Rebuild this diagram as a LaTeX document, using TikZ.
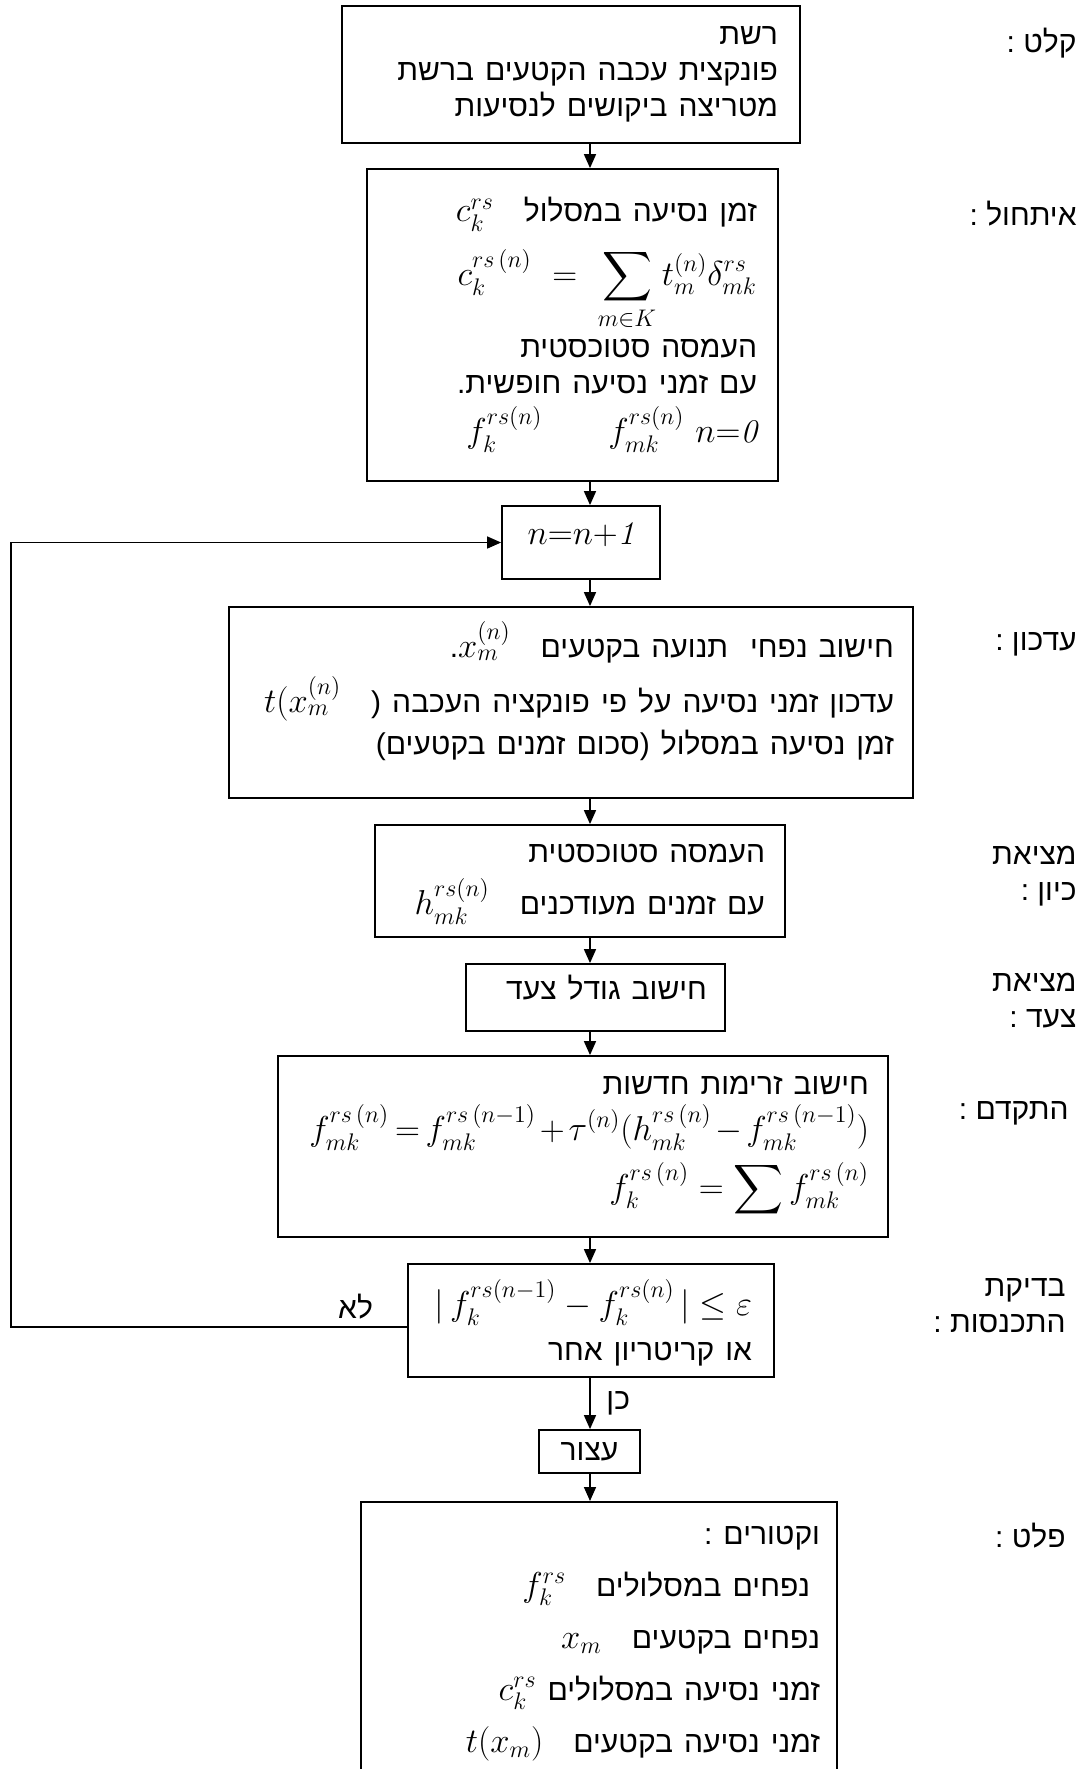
\documentclass[tikz,border=0pt]{standalone}
\usepackage{amsmath}
\usepackage{fontspec}
\usepackage{tikz}
\usetikzlibrary{arrows.meta,positioning}
\newfontfamily\hebfont[Script=Hebrew,Scale=0.91]{Liberation Sans}
\TeXXeTstate=1
\newcommand{\heb}[1]{\mbox{\beginR\hebfont #1\endR}}
\newcommand{\lr}[1]{\beginL#1\endL}
\newcommand{\flowfont}{\fontsize{16.5}{18}\selectfont\lineskiplimit=-\maxdimen}
\tikzstyle{stepbox} = [rectangle, draw, line width=0.9pt, align=right, inner ysep=0pt, font=\flowfont]
\tikzstyle{sidelabel} = [anchor=east, align=right, inner sep=0pt, font=\flowfont]
\tikzstyle{flowarrow} = [line width=0.8pt, -{Triangle[length=7pt,width=6pt]}]

\begin{document}
\begin{tikzpicture}[x=0.5pt, y=-0.5pt]
    \path[fill=white, use as bounding box] (0,0) rectangle (1092,1769);
    \coordinate (spine) at (590,0);
    \coordinate (loop) at (11,0);

    % Main boxes
    \node[stepbox, inner xsep=11pt, text width=207pt, minimum height=68.5pt] (input) at (571,74.5)
        {\heb{רשת}\\ \heb{פונקצית עכבה הקטעים ברשת}\\ \heb{מטריצה ביקושים לנסיעות}};
    \node[stepbox, inner xsep=10.5pt, text width=184.5pt, minimum height=156pt] (init) at (572.5,325)
        {\heb{זמן נסיעה במסלול\quad\lr{$c_k^{rs}$}}\\[14pt]
         \mbox{$\displaystyle c_k^{rs\,(n)}\ =\ \sum_{m\in K} t_m^{(n)}\delta_{mk}^{rs}$}\\[18pt]
         \heb{העמסה סטוכסטית}\\
         \heb{עם זמני נסיעה חופשית.}\\[6.5pt]
         \mbox{$f_k^{rs(n)}\qquad f_{mk}^{rs(n)}\ n{=}\mathit{0}$}};
    \node[stepbox, align=center, minimum width=79pt, minimum height=36.5pt, text height=1.5pt, text depth=0pt] (iter) at (581,542.5)
        {$n{=}n{+}\mathit{1}$};
    \node[stepbox, inner xsep=9.5pt, text width=323pt, minimum height=95.5pt, text height=0pt, text depth=45.5pt] (update) at (571,702.5)
        {\heb{חישוב נפחי\ \ תנועה בקטעים\quad\lr{$x_m^{(n)}$}.}\\[9.5pt]
         \heb{עדכון זמני נסיעה על פי פונקציה העכבה (\quad\lr{$t(x_m^{(n)}$}}\\[3pt]
         \heb{זמן נסיעה במסלול (סכום זמנים בקטעים)}};
    \node[stepbox, inner xsep=10pt, text width=185pt, minimum height=56pt, text height=0pt, text depth=19pt] (direction) at (580,881)
        {\heb{העמסה סטוכסטית}\\[8pt]
         \heb{עם זמנים מעודכנים\quad\lr{$h_{mk}^{rs(n)}$}}};
    \node[stepbox, inner xsep=9pt, text width=111.5pt, minimum height=33.5pt, text height=2pt, text depth=0pt] (stepsize) at (595.5,997.5)
        {\heb{חישוב גודל צעד}};
    \node[stepbox, inner xsep=9.5pt, text width=286pt, minimum height=90.5pt] (advance) at (583,1146.5)
        {\heb{חישוב זרימות חדשות}\\[5pt]
         \mbox{\medmuskip=2mu\thickmuskip=3mu$f_{mk}^{rs\,(n)} = f_{mk}^{rs\,(n-1)} + \tau^{(n)}(h_{mk}^{rs\,(n)} - f_{mk}^{rs\,(n-1)})$}\\[11pt]
         \mbox{$\displaystyle f_k^{rs\,(n)} = \sum f_{mk}^{rs\,(n)}$}};
    \node[stepbox, inner xsep=11pt, text width=161pt, minimum height=56.5pt, text height=0pt, text depth=5pt] (converge) at (591,1320.5)
        {\mbox{$|\,f_k^{rs(n-1)} - f_k^{rs(n)}\,| \le \varepsilon$}\\[4.5pt]
         \heb{או קריטריון אחר}};
    \node[stepbox, align=center, minimum width=50.5pt, minimum height=21.5pt] (stop) at (589.5,1451.5)
        {\heb{עצור}};
    \node[stepbox, anchor=north, inner xsep=8.5pt, inner ysep=12pt, text width=221pt] (output) at (599,1501)
        {\heb{וקטורים :}\\[8pt]
         \heb{\hspace*{5pt}נפחים במסלולים\quad\lr{$f_k^{rs}$}}\\[8pt]
         \heb{נפחים בקטעים\quad\lr{$x_m$}}\\[8pt]
         \heb{זמני נסיעה במסלולים\ \lr{$c_k^{rs}$}}\\[8pt]
         \heb{זמני נסיעה בקטעים\quad\lr{$t(x_m)$}}\rule[-40pt]{0pt}{40pt}};

    % Stage labels
    \node[sidelabel] (lblinput) at (1077,43) {\heb{קלט :}};
    \node[sidelabel] (lblinit) at (1077,214) {\heb{איתחול :}};
    \node[sidelabel] (lblupdate) at (1077,644) {\heb{עדכון :}};
    \node[sidelabel] (lbldirection) at (1077,876) {\heb{מציאת}\\ \heb{כיון :}};
    \node[sidelabel] (lblstep) at (1077,1001) {\heb{מציאת}\\ \heb{צעד :}};
    \node[sidelabel] (lbladvance) at (1069,1113) {\heb{התקדם :}};
    \node[sidelabel] (lblconverge) at (1066,1306) {\heb{בדיקת}\\ \heb{התכנסות :}};
    \node[sidelabel] (lbloutput) at (1066,1536) {\heb{פלט :}};

    % Connections
    \draw[flowarrow] (input.south -| spine) -- (init.north -| spine);
    \draw[flowarrow] (init.south -| spine) -- (iter.north -| spine);
    \draw[flowarrow] (iter.south -| spine) -- (update.north -| spine);
    \draw[flowarrow] (update.south -| spine) -- (direction.north -| spine);
    \draw[flowarrow] (direction.south -| spine) -- (stepsize.north -| spine);
    \draw[flowarrow] (stepsize.south -| spine) -- (advance.north -| spine);
    \draw[flowarrow] (advance.south -| spine) -- (converge.north -| spine);
    \draw[flowarrow] (converge.south -| spine) -- node[right=4.5pt, font=\flowfont] (yes) {\heb{כן}} (stop.north -| spine);
    \draw[flowarrow] (stop.south -| spine) -- (output.north -| spine);

    % Feedback loop
    \coordinate (noexit) at ([yshift=-3.25pt]converge.west);
    \draw[flowarrow] (noexit) -- node[above, pos=0.13, font=\flowfont] (no) {\heb{לא}} (loop |- noexit) |- (iter.west);
\end{tikzpicture}
\end{document}
